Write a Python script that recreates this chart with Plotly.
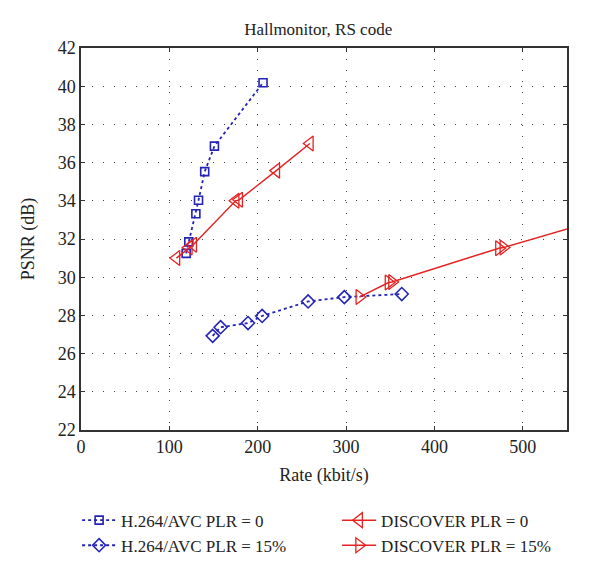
import plotly.graph_objects as go

# H.264/AVC PLR = 0
h264_0_rate = [119, 122, 130, 133, 140, 151, 206]
h264_0_psnr = [31.25, 31.85, 33.32, 34.03, 35.53, 36.86, 40.18]

# H.264/AVC PLR = 15%
h264_15_rate = [149, 158, 189, 205, 257, 298, 363]
h264_15_psnr = [26.93, 27.38, 27.6, 27.97, 28.73, 28.96, 29.12]

# DISCOVER PLR = 0
disc_0_rate = [108, 122, 127, 175, 179, 221, 259]
disc_0_psnr = [31.0, 31.55, 31.7, 34.0, 34.05, 35.58, 37.0]

# DISCOVER PLR = 15%
disc_15_rate = [315, 348, 352, 473, 478, 600]
disc_15_psnr = [28.96, 29.72, 29.75, 31.52, 31.55, 33.2]

x_ticks = [0, 100, 200, 300, 400, 500]
y_ticks = [22, 24, 26, 28, 30, 32, 34, 36, 38, 40, 42]

BLUE = "#2323b8"
RED = "#e52222"
FONT = "Liberation Serif"
TXT = "#222222"

fig = go.Figure()
fig.add_trace(go.Scatter(
    x=h264_0_rate, y=h264_0_psnr, name="H.264/AVC PLR = 0", mode="lines+markers",
    line=dict(color=BLUE, width=1.8, dash="dot"),
    marker=dict(symbol="square-open", size=8, color=BLUE, line=dict(width=1.6, color=BLUE))))
fig.add_trace(go.Scatter(
    x=disc_0_rate, y=disc_0_psnr, name="DISCOVER PLR = 0", mode="lines+markers",
    line=dict(color=RED, width=1.5),
    marker=dict(symbol="triangle-left-open", size=13, color=RED, line=dict(width=1.3, color=RED))))
fig.add_trace(go.Scatter(
    x=h264_15_rate, y=h264_15_psnr, name="H.264/AVC PLR = 15%", mode="lines+markers",
    line=dict(color=BLUE, width=1.8, dash="dot"),
    marker=dict(symbol="diamond-open", size=10, color=BLUE, line=dict(width=1.6, color=BLUE))))
fig.add_trace(go.Scatter(
    x=disc_15_rate, y=disc_15_psnr, name="DISCOVER PLR = 15%", mode="lines+markers",
    line=dict(color=RED, width=1.5),
    marker=dict(symbol="triangle-right-open", size=13, color=RED, line=dict(width=1.3, color=RED))))

axis_common = dict(
    showline=True, linecolor="#333333", linewidth=1.5, mirror="ticks",
    ticks="inside", ticklen=4, tickcolor="#333333",
    showgrid=True, gridcolor="#444444", gridwidth=1, griddash="1px,10px",
    zeroline=False, tickfont=dict(family=FONT, size=18, color=TXT),
    automargin=False,
)

fig.update_xaxes(range=[0, 550], tickvals=x_ticks, ticktext=[str(v) for v in x_ticks],
                 title=dict(text="Rate (kbit/s)", font=dict(family=FONT, size=18, color=TXT), standoff=12),
                 **axis_common)
fig.update_yaxes(range=[22, 42], tickvals=y_ticks, ticktext=[str(v) for v in y_ticks],
                 title=dict(text="PSNR (dB)", font=dict(family=FONT, size=18, color=TXT), standoff=18),
                 **axis_common)

fig.update_layout(
    width=592, height=567,
    margin=dict(l=73, r=33, t=40, b=143),
    paper_bgcolor="white", plot_bgcolor="white",
    title=dict(text="Hallmonitor, RS code", xref="paper", x=0.488, xanchor="center",
               y=0.962, yanchor="middle",
               font=dict(family=FONT, size=17, color=TXT)),
    showlegend=True,
    legend=dict(orientation="h", x=-0.008, xanchor="left", y=-0.19, yanchor="top",
                entrywidth=211, entrywidthmode="pixels", tracegroupgap=0,
                font=dict(family=FONT, size=17, color=TXT), itemwidth=34,
                bgcolor="rgba(0,0,0,0)"),
)

fig.write_html("out.html")
